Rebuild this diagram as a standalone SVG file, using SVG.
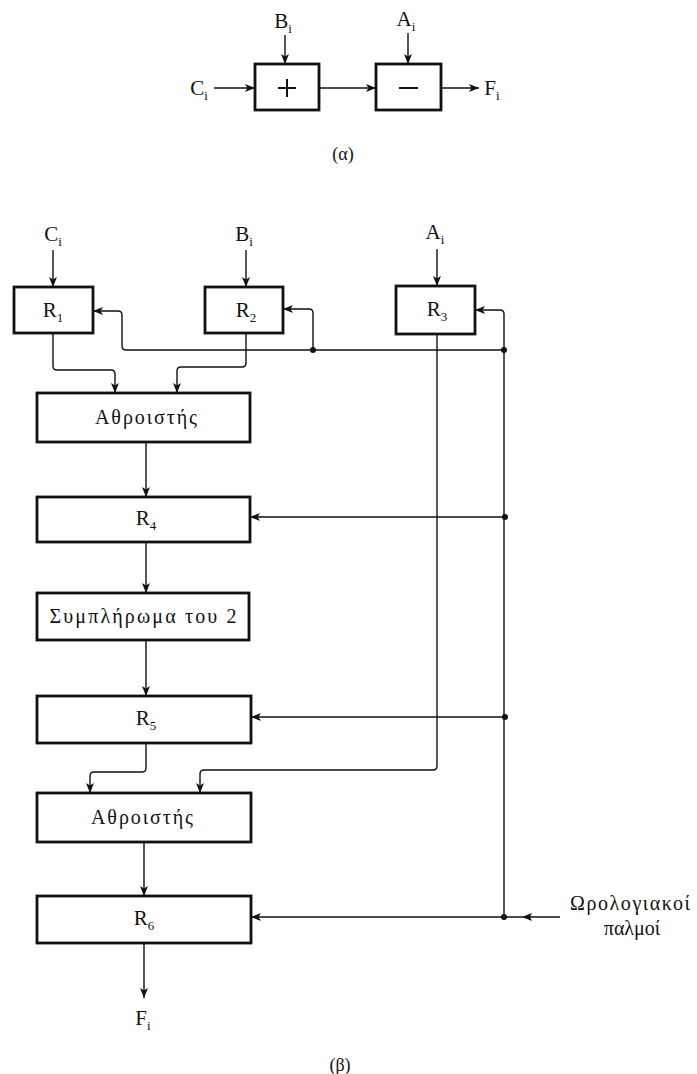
<svg xmlns="http://www.w3.org/2000/svg" width="697" height="1074" viewBox="0 0 697 1074">
<style>
text{font-family:"Liberation Serif","DejaVu Serif",serif;fill:#111;}
.lbl{font-size:21px;text-anchor:middle;}
.sub{font-size:13px;}
.box{fill:#fff;stroke:#111;stroke-width:2.8;}
.wire{fill:none;stroke:#111;stroke-width:1.4;}
.arr{fill:none;stroke:#111;stroke-width:1.4;marker-end:url(#ah);}
.dot{fill:#111;}
.name{font-size:20px;text-anchor:middle;}
</style>
<defs>
<marker id="ah" viewBox="0 0 10 8" refX="10" refY="4" markerWidth="10" markerHeight="8" orient="auto" markerUnits="userSpaceOnUse">
<path d="M0,0 L10,4 L0,8 L2.5,4 z" fill="#111"/>
</marker>
</defs>

<!-- (α) -->
<g id="alpha-plus"><rect class="box" x="255" y="64" width="64" height="46"/>
<path d="M287,79 V97 M278,88 H296" stroke="#111" stroke-width="2" fill="none"/></g>
<g id="alpha-minus"><rect class="box" x="376" y="64" width="65" height="46"/>
<path d="M399,88 H418" stroke="#111" stroke-width="2" fill="none"/></g>
<g id="alpha-labels">
<text class="lbl" x="283" y="28">B<tspan class="sub" dy="5">i</tspan></text>
<text class="lbl" x="406" y="26">A<tspan class="sub" dy="5">i</tspan></text>
<text class="lbl" x="199" y="95">C<tspan class="sub" dy="5">i</tspan></text>
<text class="lbl" x="492" y="95">F<tspan class="sub" dy="5">i</tspan></text>
<text class="lbl" x="343" y="160" style="font-size:18px">(α)</text>
</g>
<g id="alpha-connectors">
<line class="arr" x1="285" y1="35" x2="285" y2="64"/>
<line class="arr" x1="408" y1="33" x2="408" y2="64"/>
<line class="arr" x1="214" y1="88" x2="255" y2="88"/>
<line class="arr" x1="319" y1="88" x2="376" y2="88"/>
<line class="arr" x1="441" y1="88" x2="479" y2="88"/>
</g>

<!-- (β) nodes -->
<g id="R1"><rect class="box" x="14" y="287" width="79" height="46"/>
<text class="lbl" x="53" y="317">R<tspan class="sub" dy="5">1</tspan></text></g>
<g id="R2"><rect class="box" x="205" y="287" width="78" height="46"/>
<text class="lbl" x="246" y="317">R<tspan class="sub" dy="5">2</tspan></text></g>
<g id="R3"><rect class="box" x="396" y="286" width="79" height="48"/>
<text class="lbl" x="437" y="316">R<tspan class="sub" dy="5">3</tspan></text></g>
<g id="adder1"><rect class="box" x="37" y="393" width="213" height="49"/>
<text class="name" x="146" y="424" textLength="102" lengthAdjust="spacing">Αθροιστής</text></g>
<g id="R4"><rect class="box" x="37" y="497" width="213" height="45"/>
<text class="lbl" x="146" y="525">R<tspan class="sub" dy="5">4</tspan></text></g>
<g id="comp2"><rect class="box" x="37" y="593" width="212" height="47"/>
<text class="name" x="143" y="623" textLength="187" lengthAdjust="spacing">Συμπλήρωμα  του  2</text></g>
<g id="R5"><rect class="box" x="37" y="696" width="214" height="47"/>
<text class="lbl" x="146" y="725">R<tspan class="sub" dy="5">5</tspan></text></g>
<g id="adder2"><rect class="box" x="37" y="793" width="214" height="49"/>
<text class="name" x="142" y="824" textLength="102" lengthAdjust="spacing">Αθροιστής</text></g>
<g id="R6"><rect class="box" x="37" y="896" width="214" height="47"/>
<text class="lbl" x="144" y="925">R<tspan class="sub" dy="5">6</tspan></text></g>

<g id="beta-labels">
<text class="lbl" x="53" y="241">C<tspan class="sub" dy="5">i</tspan></text>
<text class="lbl" x="244" y="241">B<tspan class="sub" dy="5">i</tspan></text>
<text class="lbl" x="435" y="239">A<tspan class="sub" dy="5">i</tspan></text>
<text class="lbl" x="143" y="1025">F<tspan class="sub" dy="5">i</tspan></text>
<text class="name" x="630" y="910" textLength="120" lengthAdjust="spacing">Ωρολογιακοί</text>
<text class="name" x="632" y="935">παλμοί</text>
<text class="lbl" x="340" y="1071" style="font-size:18px">(β)</text>
</g>

<!-- (β) connectors -->
<g id="connectors">
<line class="arr" x1="53" y1="250" x2="53" y2="287"/>
<line class="arr" x1="246" y1="250" x2="246" y2="287"/>
<line class="arr" x1="437" y1="249" x2="437" y2="286"/>
<path class="arr" d="M53,333 V366 Q53,370 57,370 H111 Q115,370 115,374 V393"/>
<path class="arr" d="M246,333 V363 Q246,367 242,367 H181 Q177,367 177,371 V393"/>
<path class="arr" d="M504,350 H126 Q122,350 122,346 V315 Q122,311 118,311 H93"/>
<path class="arr" d="M313,350 V313 Q313,309 309,309 H283"/>
<path class="arr" d="M504,917 V314 Q504,310 500,310 H475"/>
<line class="arr" x1="505" y1="517" x2="250" y2="517"/>
<line class="arr" x1="505" y1="717" x2="251" y2="717"/>
<line class="arr" x1="560" y1="917" x2="251" y2="917"/>
<path d="M522,917 L532,913 L530,917 L532,921 z" fill="#111"/>
<path class="arr" d="M437,334 V766 Q437,770 433,770 H204 Q200,770 200,774 V793"/>
<line class="arr" x1="146" y1="442" x2="146" y2="497"/>
<line class="arr" x1="146" y1="542" x2="146" y2="593"/>
<line class="arr" x1="146" y1="640" x2="146" y2="696"/>
<path class="arr" d="M146,743 V768 Q146,772 142,772 H94 Q90,772 90,776 V793"/>
<line class="arr" x1="144" y1="842" x2="144" y2="896"/>
<line class="arr" x1="144" y1="943" x2="144" y2="998"/>
<circle class="dot" cx="313" cy="350" r="3"/>
<circle class="dot" cx="504" cy="350" r="3"/>
<circle class="dot" cx="505" cy="517" r="3"/>
<circle class="dot" cx="505" cy="717" r="3"/>
<circle class="dot" cx="504" cy="917" r="3"/>
</g>
</svg>
